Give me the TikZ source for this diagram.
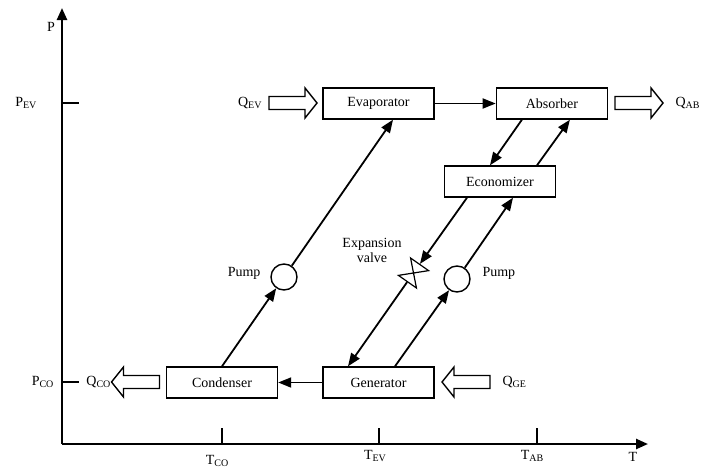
\documentclass[tikz,border=0pt]{standalone}
\usepackage{fontspec}
\setmainfont{Liberation Serif}
\usetikzlibrary{arrows.meta,positioning}
\newcommand{\lowsub}[1]{\raisebox{-0.3ex}{\fontsize{10}{10}\selectfont #1}}

\begin{document}
\begin{tikzpicture}[
  x=1pt, y=-1pt,
  font=\fontsize{14}{15}\selectfont,
  unit/.style={draw, line width=1.4pt, minimum width=111pt, minimum height=31pt,
    inner sep=0pt},
  pumpnode/.style={draw, line width=1.4pt, circle, minimum size=26pt, inner sep=0pt},
  valvenode/.style={circle, minimum size=22pt, inner sep=0pt},
  heat/.style={draw, line width=1.4pt, line join=miter},
  flow/.style={-{Triangle[length=13pt,width=10pt]}, line width=1.8pt},
  axis/.style={-{Triangle[length=12pt,width=10pt]}, line width=2.4pt},
  tick/.style={line width=1.4pt}
]
  \useasboundingbox (0,0) rectangle (703,471);

  % axes
  \coordinate (origin) at (62,444);
  \coordinate (ptop) at (62,8);
  \coordinate (tend) at (648,444);
  \draw[axis] (origin) -- (ptop);
  \draw[axis] (origin) -- (tend);
  \node (plabel) at (51,27) {P};
  \node (tlabel) at (633,457) {T};

  \draw[tick] (62,103) -- (79,103);
  \draw[tick] (62,382) -- (79,382);
  \node[anchor=east] (pev) at (40,103) {P\lowsub{EV}};
  \node[anchor=east] (pco) at (57,382) {P\lowsub{CO}};

  \draw[tick] (222,428) -- (222,444);
  \draw[tick] (379,428) -- (379,444);
  \draw[tick] (537,428) -- (537,444);
  \node (tco) at (217,461) {T\lowsub{CO}};
  \node (tev) at (375,456) {T\lowsub{EV}};
  \node (tab) at (532,456) {T\lowsub{AB}};

  % components
  \node[unit] (evap) at (378.5,103.5) {Evaporator};
  \node[unit, right=61pt of evap] (absorb) {Absorber};
  \node[unit] (econ) at (500,181.5) {Economizer};
  \node[unit] (cond) at (222,382.5) {Condenser};
  \node[unit] (gen) at (378.5,382.5) {Generator};

  \node[pumpnode] (pumpa) at (284,277) {};
  \node[pumpnode] (pumpb) at (457,279) {};
  \node[anchor=east] (pumpalabel) at (264,273) {Pump};
  \node[anchor=west] (pumpblabel) at (479,273) {Pump};

  \node[valvenode] (valve) at (413.5,273) {};
  \draw[line width=1.2pt, shift={(valve.center)}, rotate=55]
    (-10.6pt,-11pt) -- (-10.6pt,11pt) -- (10.6pt,-11pt) -- (10.6pt,11pt) -- cycle;
  \node[align=center] (valvelabel) at (372,250) {Expansion\\valve};

  % heat flows
  \coordinate (qevarrow) at (293,103);
  \coordinate (qabarrow) at (639,103);
  \coordinate (qcoarrow) at (135.5,382);
  \coordinate (qgearrow) at (466,382);
  \draw[heat, shift={(qevarrow)}]
    (-24,-6.5) -- (12,-6.5) -- (12,-15) -- (24,0) -- (12,15) -- (12,6.5) -- (-24,6.5) -- cycle;
  \draw[heat, shift={(qabarrow)}]
    (-24,-6.5) -- (12,-6.5) -- (12,-15) -- (24,0) -- (12,15) -- (12,6.5) -- (-24,6.5) -- cycle;
  \draw[heat, shift={(qcoarrow)}, xscale=-1]
    (-24,-6.5) -- (12,-6.5) -- (12,-15) -- (24,0) -- (12,15) -- (12,6.5) -- (-24,6.5) -- cycle;
  \draw[heat, shift={(qgearrow)}, xscale=-1]
    (-24,-6.5) -- (12,-6.5) -- (12,-15) -- (24,0) -- (12,15) -- (12,6.5) -- (-24,6.5) -- cycle;
  \node[anchor=east] (qev) at (265,103) {Q\lowsub{EV}};
  \node[anchor=west] (qab) at (672,103) {Q\lowsub{AB}};
  \node[anchor=east] (qco) at (114,382) {Q\lowsub{CO}};
  \node[anchor=west] (qge) at (499,382) {Q\lowsub{GE}};

  % refrigerant and solution loops
  \draw[flow] (evap) -- (absorb);
  \draw[flow] (gen) -- (cond);
  \draw[flow] (cond.north) -- (pumpa);
  \draw[flow] (pumpa) -- ([xshift=14.5pt]evap.south);
  \draw[flow] ([xshift=-30pt]absorb.south) -- ([xshift=-10pt]econ.north);
  \draw[flow] ([xshift=37pt]econ.north) -- ([xshift=18pt]absorb.south);
  \draw[flow] ([xshift=-33pt]econ.south) -- (valve);
  \draw[flow] (valve) -- ([xshift=-30.5pt]gen.north);
  \draw[flow] ([xshift=16.5pt]gen.north) -- (pumpb);
  \draw[flow] (pumpb) -- ([xshift=13pt]econ.south);
\end{tikzpicture}
\end{document}
